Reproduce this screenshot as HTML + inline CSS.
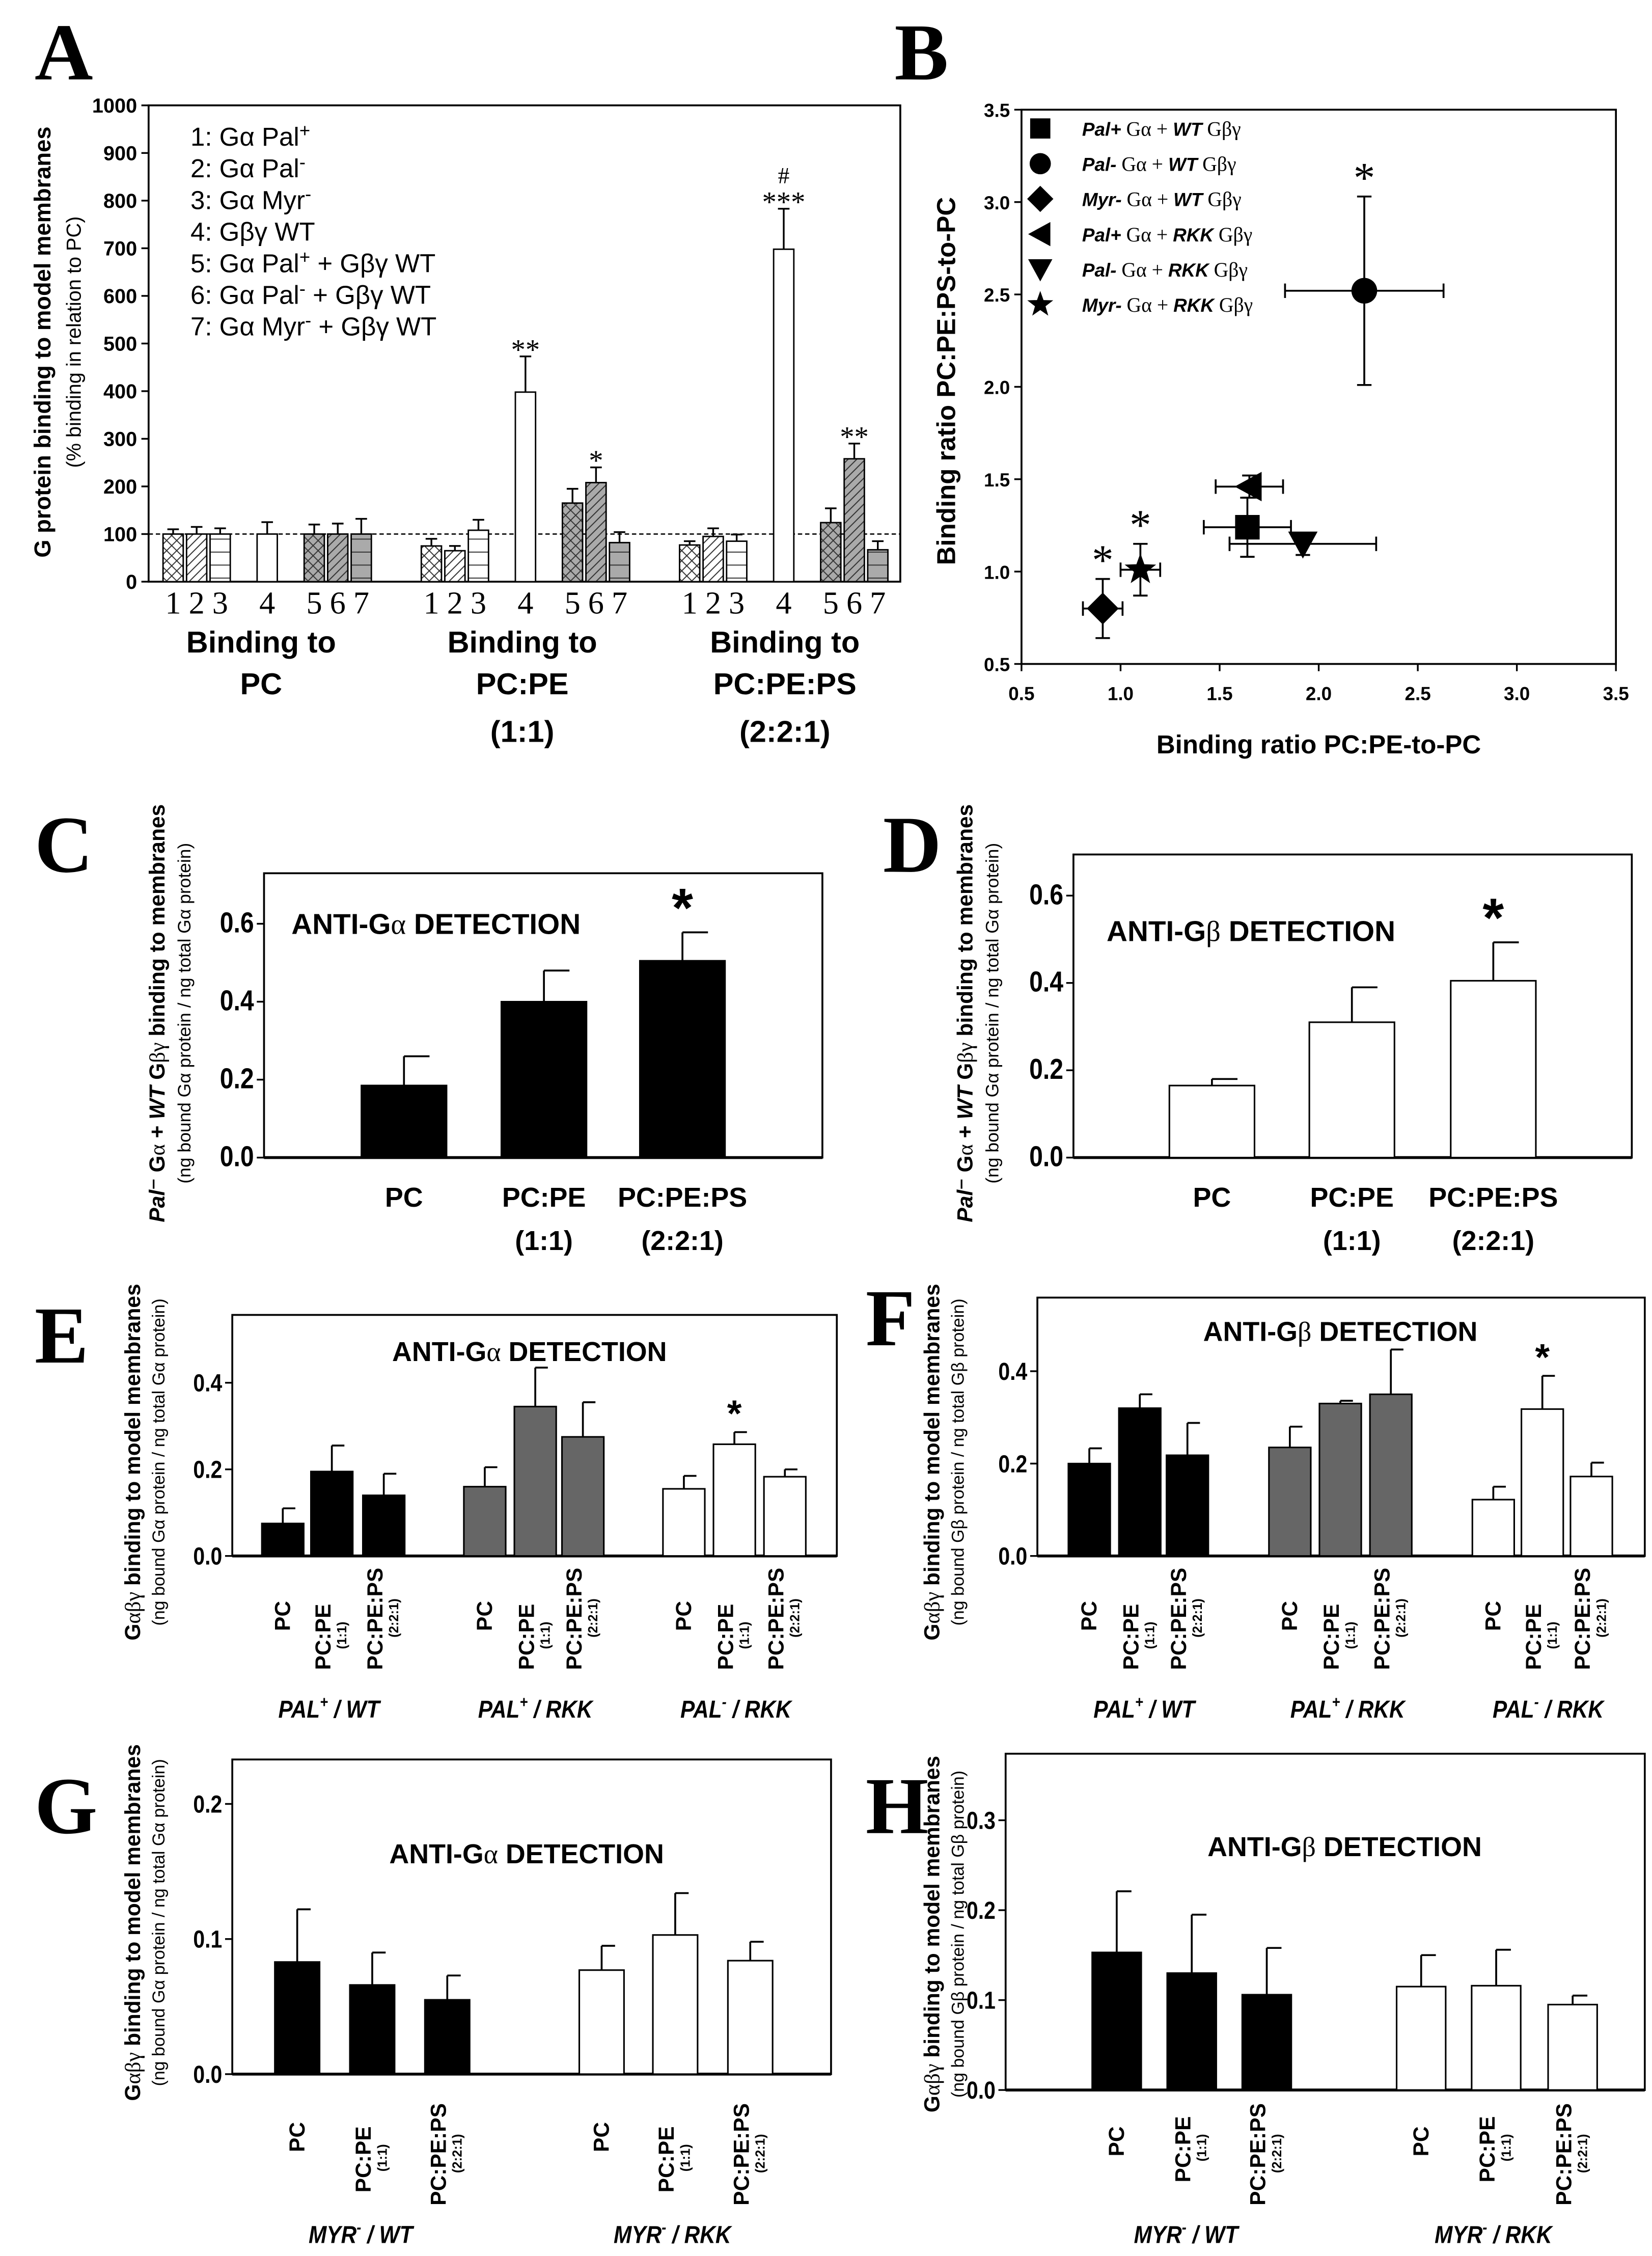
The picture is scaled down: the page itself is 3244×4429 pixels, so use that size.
<!DOCTYPE html>
<html><head><meta charset="utf-8"><style>
html,body{margin:0;padding:0;background:#fff}
svg{display:block}
text{font-family:"Liberation Sans",sans-serif}
.ser{font-family:"Liberation Serif",serif}
</style></head><body>
<svg id="fig" xmlns="http://www.w3.org/2000/svg" width="3244" height="4429" viewBox="0 0 1145 1563" preserveAspectRatio="none">
<defs>
<pattern id="hx" patternUnits="userSpaceOnUse" width="7" height="7"><path d="M0,0L7,7M7,0L0,7" stroke="#333" stroke-width="0.7"/></pattern>
<pattern id="hd" patternUnits="userSpaceOnUse" width="6" height="6"><path d="M-1,7L7,-1M-1,1L1,-1M5,7L7,5" stroke="#333" stroke-width="0.7"/></pattern>
<pattern id="hh" patternUnits="userSpaceOnUse" width="6" height="9"><path d="M0,4.5H6" stroke="#333" stroke-width="0.7"/></pattern>
</defs>
</svg>
<script>
// ---------- Panel A data ----------
const aGroups = ['PC', 'PC:PE', 'PC:PE:PS'];
const aBarLabels = ['1', '2', '3', '4', '5', '6', '7'];
const aValues = [[100,100,100,100,100,100,100],[75,65,108,398,165,208,82],[77,95,85,698,124,258,67]];
const aErrors = [[10,15,12,25,20,22,32],[15,10,22,75,30,32,22],[8,17,14,85,30,32,18]];
const aTicks = [0,100,200,300,400,500,600,700,800,900,1000];
const aStars = [[1,3,'**'],[1,5,'*'],[2,3,'***'],[2,5,'**']];
// ---------- Panel B data ----------
const bNames = ['Pal+ WT','Pal- WT','Myr- WT','Pal+ RKK','Pal- RKK','Myr- RKK'];
const bX = [1.64, 2.23, 0.91, 1.65, 1.92, 1.10];
const bY = [1.24, 2.52, 0.80, 1.46, 1.15, 1.01];
const bXErr = [0.22, 0.40, 0.10, 0.17, 0.37, 0.10];
const bYErr = [0.16, 0.51, 0.16, 0.06, 0.06, 0.14];
const bStar = [false, true, true, false, false, true];
const bTicks = [0.5,1.0,1.5,2.0,2.5,3.0,3.5];
// ---------- Panel C-H data ----------
const cValues = [0.185, 0.40, 0.505];
const cErrors = [0.075, 0.08, 0.073];
const dValues = [0.165, 0.31, 0.405];
const dErrors = [0.015, 0.08, 0.088];
const eValues = [0.075, 0.195, 0.14, 0.16, 0.345, 0.275, 0.155, 0.258, 0.183];
const eErrors = [0.035, 0.06, 0.05, 0.045, 0.09, 0.08, 0.03, 0.028, 0.017];
const fValues = [0.20, 0.32, 0.218, 0.235, 0.33, 0.35, 0.122, 0.318, 0.172];
const fErrors = [0.033, 0.03, 0.07, 0.045, 0.006, 0.097, 0.028, 0.072, 0.03];
const gValues = [0.083, 0.066, 0.055, 0.077, 0.103, 0.084];
const gErrors = [0.039, 0.024, 0.018, 0.018, 0.031, 0.014];
const hValues = [0.153, 0.13, 0.106, 0.115, 0.116, 0.095];
const hErrors = [0.068, 0.065, 0.052, 0.035, 0.04, 0.01];
const ticks06 = ['0.0','0.2','0.4','0.6'];
const ticks04 = ['0.0','0.2','0.4'];
const ticks02 = ['0.0','0.1','0.2'];
const ticks03 = ['0.0','0.1','0.2','0.3'];

const NS = 'http://www.w3.org/2000/svg';
const svg = document.getElementById('fig');
function mk(tag, attrs, parent, txt) {
  const e = document.createElementNS(NS, tag);
  for (const k in attrs) e.setAttribute(k, attrs[k]);
  if (txt !== undefined) e.textContent = txt;
  (parent || svg).appendChild(e);
  return e;
}
function rich(parent, attrs, parts) { // parts: [text, style]
  const t = mk('text', attrs, parent);
  for (const p of parts) { const s = mk('tspan', p[1] || {}, t, p[0]); }
  return t;
}
function letter(ch, x, y) {
  const t = mk('text', {x:x, y:y, 'font-size':56, 'font-weight':'bold', class:'ser'}, svg, ch);
  
  
}

// ================= PANEL A =================
(function(){
  const g = mk('g', {});
  
  
  letter('A', 24, 55);
  const L = 103, R = 624, T = 73, B = 403;
  const y = v => B - (v / 1000) * (B - T);
  const slot = [0,1,2,4,6,7,8];
  const x = (gi, i) => 120 + gi * 179 + slot[i] * 16.3;
  const box = mk('rect', {x:L, y:T, width:R-L, height:B-T, fill:'none', stroke:'#000', 'stroke-width':1.3}, g);
  
  
  aTicks.forEach(t => {
    mk('line', {x1:L-5, x2:L, y1:y(t), y2:y(t), stroke:'#000', 'stroke-width':1.2}, g);
    const tl = mk('text', {x:L-8, y:y(t)+5, 'text-anchor':'end', 'font-size':14, 'font-weight':'bold'}, g, String(t));
    
    
  });
  const dl = mk('line', {x1:L, x2:R, y1:y(100), y2:y(100), stroke:'#000', 'stroke-width':0.9, 'stroke-dasharray':'3,2'}, g);
  
  
  const fills = [['#fff','url(#hx)'],['#fff','url(#hd)'],['#fff','url(#hh)'],['#fff',null],['#aaa','url(#hx)'],['#aaa','url(#hd)'],['#aaa','url(#hh)']];
  const w = 14;
  aValues.forEach((vals, gi) => {
    vals.forEach((v, i) => {
      const cx = x(gi, i);
      const bg = mk('rect', {x:cx-w/2, y:y(v), width:w, height:B-y(v), fill:fills[i][0]}, g);
      
      
      if (fills[i][1]) mk('rect', {x:cx-w/2, y:y(v), width:w, height:B-y(v), fill:fills[i][1]}, g);
      mk('rect', {x:cx-w/2, y:y(v), width:w, height:B-y(v), fill:'none', stroke:'#000', 'stroke-width':1}, g);
      const e = aErrors[gi][i];
      const eb = mk('path', {d:`M${cx},${y(v)}V${y(v+e)}M${cx-4},${y(v+e)}H${cx+4}`, stroke:'#000', 'stroke-width':1.2, fill:'none'}, g);
      
      
      const lb = mk('text', {x:cx, y:425, 'text-anchor':'middle', 'font-size':22, class:'ser'}, g, aBarLabels[i]);
      
      
    });
  });
  aStars.forEach(s => {
    const v = aValues[s[0]][s[1]] + aErrors[s[0]][s[1]];
    const st = mk('text', {x:x(s[0], s[1]), y:y(v)+2, 'text-anchor':'middle', 'font-size':20, class:'ser'}, g, s[2]);
    
    
  });
  const hs = mk('text', {x:x(2,3), y:127, 'text-anchor':'middle', 'font-size':16, class:'ser'}, g, '#');
  
  
  const gl = [[181,['Binding to','PC']],[362,['Binding to','PC:PE','(1:1)']],[544,['Binding to','PC:PE:PS','(2:2:1)']]];
  const ys = [452, 481, 514];
  gl.forEach(q => q[1].forEach((s, k) => {
    const t = mk('text', {x:q[0], y:ys[k], 'text-anchor':'middle', 'font-size':21, 'font-weight':'bold'}, g, s);
    
    
  }));
  const legend = [['1: Gα Pal','+'],['2: Gα Pal','-'],['3: Gα Myr','-'],['4: Gβγ WT',''],['5: Gα Pal','+',' + Gβγ WT'],['6: Gα Pal','-',' + Gβγ WT'],['7: Gα Myr','-',' + Gβγ WT']];
  legend.forEach((l, k) => {
    const parts = [[l[0]]];
    if (l[1]) parts.push([l[1], {dy:-6, 'font-size':13}]);
    if (l[2]) parts.push([l[2], {dy:6}]);
    const t = rich(g, {x:132, y:101 + k*21.9, 'font-size':18}, parts);
    
    
  });
  const yt = mk('text', {transform:'translate(35,237) rotate(-90)', 'text-anchor':'middle', 'font-size':16, 'font-weight':'bold'}, g, 'G protein binding to model membranes');
  
  
  const yt2 = mk('text', {transform:'translate(56,237) rotate(-90)', 'text-anchor':'middle', 'font-size':14}, g, '(% binding in relation to PC)');
  
  
})();

// ================= PANEL B =================
(function(){
  const g = mk('g', {});
  
  
  letter('B', 620, 55);
  const L = 708, R = 1120, T = 76, B = 460;
  const xs = v => L + (v - 0.5) / 3 * (R - L);
  const ys = v => B - (v - 0.5) / 3 * (B - T);
  const fr = mk('rect', {x:L, y:T, width:R-L, height:B-T, fill:'none', stroke:'#000', 'stroke-width':1.3}, g);
  
  
  bTicks.forEach(t => {
    mk('line', {x1:xs(t), x2:xs(t), y1:B, y2:B+5, stroke:'#000', 'stroke-width':1.2}, g);
    mk('line', {x1:L-5, x2:L, y1:ys(t), y2:ys(t), stroke:'#000', 'stroke-width':1.2}, g);
    const a = mk('text', {x:xs(t), y:485, 'text-anchor':'middle', 'font-size':13, 'font-weight':'bold'}, g, t.toFixed(1));
    
    
    const b = mk('text', {x:L-8, y:ys(t)+5, 'text-anchor':'end', 'font-size':13, 'font-weight':'bold'}, g, t.toFixed(1));
    
    
  });
  function marker(k, cx, cy, s, parent) {
    let d;
    if (k === 0) return mk('rect', {x:cx-s, y:cy-s, width:2*s, height:2*s, fill:'#000'}, parent);
    if (k === 1) return mk('circle', {cx:cx, cy:cy, r:s*1.05, fill:'#000'}, parent);
    if (k === 2) d = `M${cx},${cy-s*1.3}L${cx+s*1.3},${cy}L${cx},${cy+s*1.3}L${cx-s*1.3},${cy}Z`;
    if (k === 3) d = `M${cx-s*1.2},${cy}L${cx+s},${cy-s*1.2}L${cx+s},${cy+s*1.2}Z`;
    if (k === 4) d = `M${cx-s*1.2},${cy-s}L${cx+s*1.2},${cy-s}L${cx},${cy+s*1.2}Z`;
    if (k === 5) { d = ''; for (let i = 0; i < 10; i++) { const r = i % 2 ? s*0.55 : s*1.35; const a = -Math.PI/2 + i*Math.PI/5; d += (i ? 'L' : 'M') + (cx + r*Math.cos(a)).toFixed(2) + ',' + (cy + r*Math.sin(a)).toFixed(2); } d += 'Z'; }
    return mk('path', {d:d, fill:'#000'}, parent);
  }
  bX.forEach((v, k) => {
    const cx = xs(v), cy = ys(bY[k]);
    const x1 = xs(v - bXErr[k]), x2 = xs(v + bXErr[k]), y1 = ys(bY[k] + bYErr[k]), y2 = ys(bY[k] - bYErr[k]);
    const eb = mk('path', {d:`M${x1},${cy}H${x2}M${x1},${cy-5}V${cy+5}M${x2},${cy-5}V${cy+5}M${cx},${y1}V${y2}M${cx-5},${y1}H${cx+5}M${cx-5},${y2}H${cx+5}`, stroke:'#000', 'stroke-width':1.3, fill:'none'}, g);
    
    
    const m = marker(k, cx, cy, 8.5, g);
    
    
    if (bStar[k]) {
      const st = mk('text', {x:cx, y:y1-3, 'text-anchor':'middle', 'font-size':30, class:'ser'}, g, '*');
      
      
    }
  });
  const leg = [['Pal+','WT'],['Pal-','WT'],['Myr-','WT'],['Pal+','RKK'],['Pal-','RKK'],['Myr-','RKK']];
  leg.forEach((l, k) => {
    const cy = 89 + k * 24.4;
    const m = marker(k, 721, cy, 7, g);
    
    
    const t = rich(g, {x:750, y:cy+5, 'font-size':13, 'font-weight':'bold'}, [[l[0], {'font-style':'italic'}],[' Gα + ', {class:'ser', 'font-weight':'normal', 'font-size':14}],[l[1], {'font-style':'italic'}],[' Gβγ', {class:'ser', 'font-weight':'normal', 'font-size':14}]]);
    
    
  });
  const xt = mk('text', {x:914, y:522, 'text-anchor':'middle', 'font-size':18, 'font-weight':'bold'}, g, 'Binding ratio PC:PE-to-PC');
  
  
  const yt = mk('text', {transform:'translate(662,264) rotate(-90)', 'text-anchor':'middle', 'font-size':18, 'font-weight':'bold'}, g, 'Binding ratio PC:PE:PS-to-PC');
  
  
})();

// ================= Bar panels C-H =================
function barPanel(p, vals, errs, tickLabels) {
  const g = mk('g', {});
  
  
  letter(p.id.toUpperCase(), p.lx, p.ly);
  const y = v => p.y0 - v * p.k;
  const fr = mk('rect', {x:p.L, y:p.T, width:p.R-p.L, height:p.y0-p.T, fill:'none', stroke:'#000', 'stroke-width':1.3}, g);
  
  
  mk('line', {x1:p.L, x2:p.R, y1:p.y0, y2:p.y0, stroke:'#000', 'stroke-width':2}, g);
  tickLabels.forEach(s => {
    const v = parseFloat(s);
    mk('line', {x1:p.L-5, x2:p.L, y1:y(v), y2:y(v), stroke:'#000', 'stroke-width':1.2}, g);
    const t = mk('text', {x:p.L-7, y:y(v)+6, 'text-anchor':'end', 'font-size':p.tf, 'font-weight':'bold', transform:`translate(${(p.L-7)*0.15},0) scale(0.85,1)`}, g, s);
    
    
  });
  vals.forEach((v, i) => {
    const cx = p.cx[i];
    const fill = p.fills[i];
    const e = errs[i];
    const eb = mk('path', {d:`M${cx},${y(v)}V${y(v+e)}M${cx},${y(v+e)}H${cx+p.w*0.3}`, stroke:'#000', 'stroke-width':1.3, fill:'none'}, g);
    
    
    const b = mk('rect', {x:cx-p.w/2, y:y(v), width:p.w, height:p.y0-y(v), fill:fill, stroke:'#000', 'stroke-width':1.1}, g);
    
    
    if (p.star === i) {
      const st = mk('text', {x:cx, y:y(v+e)-4, 'text-anchor':'middle', 'font-size':p.sf, 'font-weight':'bold'}, g, '*');
      
      
    }
  });
  const tt = rich(g, {x:p.tx, y:p.ty, 'text-anchor':p.ta, 'font-size':p.tsz, 'font-weight':'bold'}, [['ANTI-G'],[p.greek, {class:'ser', 'font-weight':'normal'}],[' DETECTION']]);
  
  
  p.ytitle(g);
  return {g:g, y:y};
}
function rotLabels(g, cx, bottoms, idx) {
  const names = ['PC','PC:PE','PC:PE:PS'], subs = ['','(1:1)','(2:2:1)'];
  const t = mk('text', {transform:`translate(${cx+ (idx?-1:5)},${bottoms[idx]}) rotate(-90)`, 'font-size':15, 'font-weight':'bold'}, g, names[idx]);
  
  
  if (idx) {
    const len = idx === 1 ? 48 : 72;
    const s = mk('text', {transform:`translate(${cx+10},${bottoms[idx]-len/2}) rotate(-90)`, 'text-anchor':'middle', 'font-size':9, 'font-weight':'bold'}, g, subs[idx]);
    
    
  }
}
function groupLabel(g, x, y, a, sup, b) {
  const t = rich(g, {x:x, y:y, 'text-anchor':'middle', 'font-size':17, 'font-weight':'bold', 'font-style':'italic', transform:`translate(${x*0.12},0) scale(0.88,1)`}, [[a],[sup, {dy:-7, 'font-size':11}],[' / ' + b, {dy:7}]]);
  
  
}
function ytitleCD(x, cy, gg) {
  return function(g) {
    const t = rich(g, {transform:`translate(${x},${cy}) rotate(-90)`, 'text-anchor':'middle', 'font-size':15, 'font-weight':'bold'}, [['Pal',{'font-style':'italic'}],['⁻ G'],['α',{class:'ser','font-weight':'normal'}],[' + '],['WT',{'font-style':'italic'}],[' G'],['βγ',{class:'ser','font-weight':'normal'}],[' binding to membranes']]);
    
    
    const s = mk('text', {transform:`translate(${x+18},${cy}) rotate(-90)`, 'text-anchor':'middle', 'font-size':12.5}, g, '(ng bound Gα protein / ng total Gα protein)');
    
    
  };
}
function ytitleEH(x, cy, gr) {
  return function(g) {
    const t = rich(g, {transform:`translate(${x},${cy}) rotate(-90)`, 'text-anchor':'middle', 'font-size':15, 'font-weight':'bold'}, [['G'],['αβγ',{class:'ser','font-weight':'normal'}],[' binding to model membranes']]);
    
    
    const s = mk('text', {transform:`translate(${x+17},${cy}) rotate(-90)`, 'text-anchor':'middle', 'font-size':12}, g, '(ng bound G' + gr + ' protein / ng total G' + gr + ' protein)');
    
    
  };
}
const names3 = ['pc','pc-pe','pc-pe-ps'];
// C
(function(){
  const r = barPanel({id:'c', lx:24, ly:604, L:183, R:570, T:605, y0:802, k:270, cx:[280,377,473], w:59, fills:['#000','#000','#000'], star:2, sf:38, tf:20, tx:202, ty:647, ta:'start', tsz:20, greek:'α', barNames:names3, ytitle:ytitleCD(114,702)}, cValues, cErrors, ticks06);
  [['PC'],['PC:PE','(1:1)'],['PC:PE:PS','(2:2:1)']].forEach((l, i) => l.forEach((s, k) => {
    const t = mk('text', {x:[280,377,473][i], y:k?866:836, 'text-anchor':'middle', 'font-size':19, 'font-weight':'bold'}, r.g, s);
    
    
  }));
})();
// D
(function(){
  const r = barPanel({id:'d', lx:612, ly:604, L:744, R:1131, T:592, y0:802, k:302.5, cx:[840,937,1035], w:59, fills:['#fff','#fff','#fff'], star:2, sf:38, tf:20, tx:767, ty:652, ta:'start', tsz:20, greek:'β', barNames:names3, ytitle:ytitleCD(674,702)}, dValues, dErrors, ticks06);
  [['PC'],['PC:PE','(1:1)'],['PC:PE:PS','(2:2:1)']].forEach((l, i) => l.forEach((s, k) => {
    const t = mk('text', {x:[840,937,1035][i], y:k?866:836, 'text-anchor':'middle', 'font-size':19, 'font-weight':'bold'}, r.g, s);
    
    
  }));
})();
const names9 = ['palp-wt-pc','palp-wt-pcpe','palp-wt-pcpeps','palp-rkk-pc','palp-rkk-pcpe','palp-rkk-pcpeps','palm-rkk-pc','palm-rkk-pcpe','palm-rkk-pcpeps'];
const fills9 = ['#000','#000','#000','#666','#666','#666','#fff','#fff','#fff'];
// E
(function(){
  const cx = [196,230,266,336,371,404,474,509,544];
  const r = barPanel({id:'e', lx:24, ly:944, L:161, R:580, T:911, y0:1078, k:300, cx:cx, w:29, fills:fills9, star:7, sf:26, tf:17, tx:367, ty:943, ta:'middle', tsz:19, greek:'α', barNames:names9, ytitle:ytitleEH(97,1013,'α')}, eValues, eErrors, ticks04);
  cx.forEach((c, i) => rotLabels(r.g, c, [1130,1157,1157], i % 3));
  groupLabel(r.g, 228, 1190, 'PAL', '+', 'WT');
  groupLabel(r.g, 371, 1190, 'PAL', '+', 'RKK');
  groupLabel(r.g, 510, 1190, 'PAL', '-', 'RKK');
})();
// F
(function(){
  const cx = [755,790,823,894,929,964,1035,1069,1103];
  const r = barPanel({id:'f', lx:600, ly:932, L:719, R:1140, T:899, y0:1078, k:320, cx:cx, w:29, fills:fills9, star:7, sf:26, tf:17, tx:929, ty:929, ta:'middle', tsz:19, greek:'β', barNames:names9, ytitle:ytitleEH(651,1013,'β')}, fValues, fErrors, ticks04);
  cx.forEach((c, i) => rotLabels(r.g, c, [1130,1157,1157], i % 3));
  groupLabel(r.g, 793, 1190, 'PAL', '+', 'WT');
  groupLabel(r.g, 934, 1190, 'PAL', '+', 'RKK');
  groupLabel(r.g, 1073, 1190, 'PAL', '-', 'RKK');
})();
const names6 = ['myr-wt-pc','myr-wt-pcpe','myr-wt-pcpeps','myr-rkk-pc','myr-rkk-pcpe','myr-rkk-pcpeps'];
const fills6 = ['#000','#000','#000','#fff','#fff','#fff'];
// G
(function(){
  const cx = [206,258,310,417,468,520];
  const r = barPanel({id:'g', lx:24, ly:1270, L:161, R:576, T:1219, y0:1437, k:936, cx:cx, w:31, fills:fills6, star:-1, sf:26, tf:17, tx:365, ty:1291, ta:'middle', tsz:19, greek:'α', barNames:names6, ytitle:ytitleEH(97,1332,'α')}, gValues, gErrors, ticks02);
  cx.forEach((c, i) => rotLabels(r.g, c, [1491,1519,1528], i % 3));
  groupLabel(r.g, 250, 1554, 'MYR', '-', 'WT');
  groupLabel(r.g, 466, 1554, 'MYR', '-', 'RKK');
})();
// H
(function(){
  const cx = [774,826,878,985,1037,1090];
  const r = barPanel({id:'h', lx:600, ly:1270, L:697, R:1140, T:1215, y0:1448, k:623, cx:cx, w:34, fills:fills6, star:-1, sf:26, tf:17, tx:932, ty:1286, ta:'middle', tsz:19, greek:'β', barNames:names6, ytitle:ytitleEH(651,1340,'β')}, hValues, hErrors, ticks03);
  cx.forEach((c, i) => rotLabels(r.g, c, [1494,1512,1528], i % 3));
  groupLabel(r.g, 822, 1554, 'MYR', '-', 'WT');
  groupLabel(r.g, 1035, 1554, 'MYR', '-', 'RKK');
})();
</script>
</body></html>
